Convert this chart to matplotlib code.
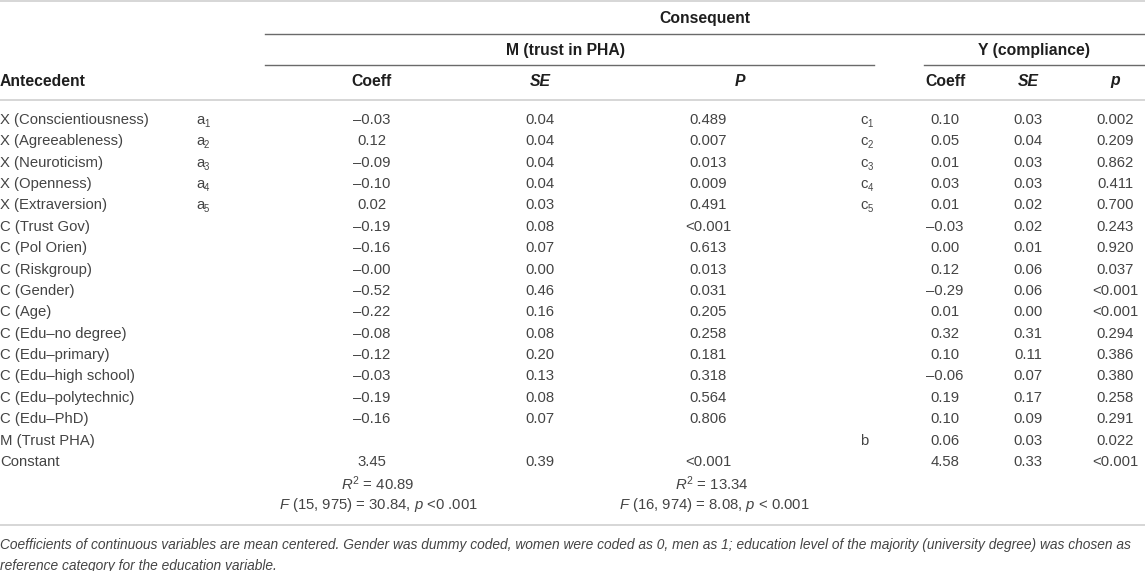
import matplotlib
matplotlib.use("Agg")
import matplotlib.pyplot as plt

plt.rcParams['font.family'] = ['Liberation Sans', 'DejaVu Sans']
plt.rcParams['mathtext.fontset'] = 'custom'
plt.rcParams['mathtext.rm'] = 'Liberation Sans'
plt.rcParams['mathtext.it'] = 'Liberation Sans:italic'

# table data
antecedents = ["X (Conscientiousness)", "X (Agreeableness)", "X (Neuroticism)", "X (Openness)",
               "X (Extraversion)", "C (Trust Gov)", "C (Pol Orien)", "C (Riskgroup)", "C (Gender)",
               "C (Age)", "C (Edu–no degree)", "C (Edu–primary)", "C (Edu–high school)",
               "C (Edu–polytechnic)", "C (Edu–PhD)", "M (Trust PHA)", "Constant"]
a_paths = ["1", "2", "3", "4", "5"]
c_paths = ["1", "2", "3", "4", "5"]

m_coeff = ["–0.03", "0.12", "–0.09", "–0.10", "0.02", "–0.19", "–0.16", "–0.00", "–0.52",
           "–0.22", "–0.08", "–0.12", "–0.03", "–0.19", "–0.16", "", "3.45"]
m_se = ["0.04", "0.04", "0.04", "0.04", "0.03", "0.08", "0.07", "0.00", "0.46",
        "0.16", "0.08", "0.20", "0.13", "0.08", "0.07", "", "0.39"]
m_p = ["0.489", "0.007", "0.013", "0.009", "0.491", "<0.001", "0.613", "0.013", "0.031",
       "0.205", "0.258", "0.181", "0.318", "0.564", "0.806", "", "<0.001"]

y_coeff = ["0.10", "0.05", "0.01", "0.03", "0.01", "–0.03", "0.00", "0.12", "–0.29",
           "0.01", "0.32", "0.10", "–0.06", "0.19", "0.10", "0.06", "4.58"]
y_se = ["0.03", "0.04", "0.03", "0.03", "0.02", "0.02", "0.01", "0.06", "0.06",
        "0.00", "0.31", "0.11", "0.07", "0.17", "0.09", "0.03", "0.33"]
y_p = ["0.002", "0.209", "0.862", "0.411", "0.700", "0.243", "0.920", "0.037", "<0.001",
       "<0.001", "0.294", "0.386", "0.380", "0.258", "0.291", "0.022", "<0.001"]

r2_m = "40.89"
r2_y = "13.34"
f_m = "$F$ (15, 975) = 30.84, $p$ <0 .001"
f_y = "$F$ (16, 974) = 8.08, $p$ < 0.001"

footnote = ["Coefficients of continuous variables are mean centered. Gender was dummy coded, women were coded as 0, men as 1; education level of the majority (university degree) was chosen as",
            "reference category for the education variable."]

W, H = 1145, 571
fig = plt.figure(figsize=(W / 100, H / 100), dpi=100)
ax = fig.add_axes([0, 0, 1, 1])
ax.set_xlim(0, W)
ax.set_ylim(H, 0)
ax.axis('off')

fs = 10.7
hfs = 11.3
txt = '#444444'
hdr = '#1e1e1e'
light = '#cfcfcf'
dark = '#6a6a6a'

# column centres
x_mc, x_mse, x_mp, x_mph = 372, 540, 708, 740
x_yc, x_yse, x_yp = 945, 1028, 1115
x_a, x_c = 196, 860

# rules
ax.plot([0, W], [1, 1], color=light, lw=1.2)
ax.plot([265, W], [34, 34], color=dark, lw=1.0)
ax.plot([265, 874], [65, 65], color=dark, lw=1.0)
ax.plot([924, W], [65, 65], color=dark, lw=1.0)
ax.plot([0, W], [100, 100], color=light, lw=1.2)
ax.plot([0, W], [525, 525], color=light, lw=1.2)

# header
ax.text((265 + W) / 2, 19, "Consequent", ha='center', va='center', fontsize=hfs, fontweight='bold', color=hdr)
ax.text(565, 50, "M (trust in PHA)", ha='center', va='center', fontsize=hfs, fontweight='bold', color=hdr)
ax.text((924 + W) / 2, 50, "Y (compliance)", ha='center', va='center', fontsize=hfs, fontweight='bold', color=hdr)
ax.text(0, 81, "Antecedent", ha='left', va='center', fontsize=hfs, fontweight='bold', color=hdr)
for x, lab, sty in [(x_mc, "Coeff", 'normal'), (x_mse, "SE", 'italic'), (x_mph, "P", 'italic'),
                    (x_yc, "Coeff", 'normal'), (x_yse, "SE", 'italic'), (x_yp, "p", 'italic')]:
    ax.text(x, 81, lab, ha='center', va='center', fontsize=hfs, fontweight='bold', style=sty, color=hdr)

# body rows
y0, dy = 120, 21.37
for i, name in enumerate(antecedents):
    y = y0 + i * dy
    ax.text(0, y, name, ha='left', va='center', fontsize=fs, color=txt)
    ax.text(x_mc, y, m_coeff[i], ha='center', va='center', fontsize=fs, color=txt)
    ax.text(x_mse, y, m_se[i], ha='center', va='center', fontsize=fs, color=txt)
    ax.text(x_mp, y, m_p[i], ha='center', va='center', fontsize=fs, color=txt)
    ax.text(x_yc, y, y_coeff[i], ha='center', va='center', fontsize=fs, color=txt)
    ax.text(x_yse, y, y_se[i], ha='center', va='center', fontsize=fs, color=txt)
    ax.text(x_yp, y, y_p[i], ha='center', va='center', fontsize=fs, color=txt)

for i, s in enumerate(a_paths):
    y = y0 + i * dy
    ax.text(x_a, y, "a", ha='left', va='center', fontsize=fs, color=txt)
    ax.text(x_a + 8, y + 4, s, ha='left', va='center', fontsize=fs * 0.65, color=txt)
for i, s in enumerate(c_paths):
    y = y0 + i * dy
    ax.text(x_c, y, "c", ha='left', va='center', fontsize=fs, color=txt)
    ax.text(x_c + 7.5, y + 4, s, ha='left', va='center', fontsize=fs * 0.65, color=txt)
ax.text(x_c, y0 + 15 * dy, "b", ha='left', va='center', fontsize=fs, color=txt)

# model summaries
yr = y0 + 17 * dy
ax.text(x_mc + 6, yr, "$R^2$ = " + r2_m, ha='center', va='center', fontsize=fs, color=txt)
ax.text(x_mp + 4, yr, "$R^2$ = " + r2_y, ha='center', va='center', fontsize=fs, color=txt)
ax.text(x_mc + 6, yr + dy, f_m, ha='center', va='center', fontsize=fs, color=txt)
ax.text(x_mp + 6, yr + dy, f_y, ha='center', va='center', fontsize=fs, color=txt)

# footnote
ax.text(0, 545, footnote[0], ha='left', va='center', fontsize=9.95, style='italic', color='#444444')
ax.text(0, 566, footnote[1], ha='left', va='center', fontsize=9.95, style='italic', color='#444444')

fig.savefig("out.png", dpi=100)
